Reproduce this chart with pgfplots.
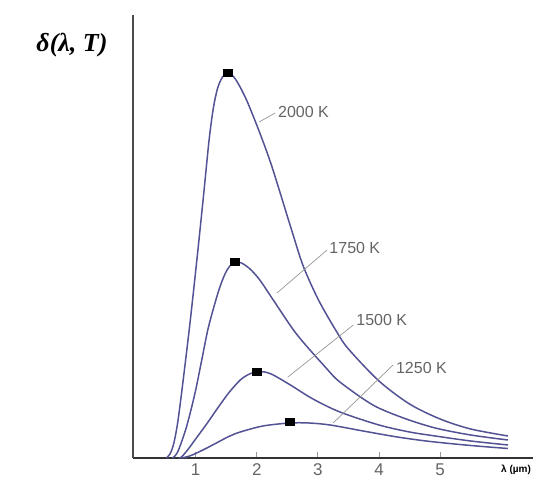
\documentclass[border=0pt]{standalone}
\usepackage{pgfplots}
\pgfplotsset{compat=1.18}
\usepackage{fontspec}
\setmainfont{Liberation Sans}
\newfontfamily\serifbi{Liberation Serif}
\definecolor{curve}{RGB}{82,82,148}
\definecolor{lab}{RGB}{100,100,100}
\definecolor{lead}{RGB}{150,150,150}
\begin{document}
\begin{tikzpicture}
\useasboundingbox (0,0) rectangle (533pt,481pt);
\begin{axis}[
 at={(133pt,23pt)}, anchor=south west,
 scale only axis, width=400pt, height=443pt,
 xmin=-0.025, xmax=6.52, ymin=0, ymax=443,
 axis x line=bottom, axis y line=left,
 x axis line style={-, line width=1.6pt, color=black!80},
 y axis line style={-, line width=1.6pt, color=black!70},
 xtick={1,2,3,4,5}, ytick=\empty,
 tick align=inside, major tick length=6pt,
 xtick style={color=black!40, line width=0.8pt},
 xticklabel style={font=\fontsize{17}{17}\selectfont, text=lab, yshift=-2pt},
 /pgf/number format/assume math mode=true,
 clip=false,
]
% 2000 K
\addplot[curve, line width=1.5pt, smooth, tension=0.5] coordinates {
 (0.52,0) (0.58,4) (0.64,14) (0.70,33) (0.77,65) (0.90,131) (1.02,198) (1.13,263)
 (1.22,318) (1.29,350) (1.36,370) (1.44,381) (1.52,385) (1.61,382) (1.70,374)
 (1.84,357) (2.05,325) (2.25,291) (2.57,228) (2.76,192) (3.01,158) (3.31,126)
 (3.50,109) (4.00,77) (4.50,54) (5.00,39) (5.50,29) (6.11,22)};
% 1750 K
\addplot[curve, line width=1.5pt, smooth, tension=0.5] coordinates {
 (0.62,0) (0.66,2) (0.72,8) (0.85,31) (0.99,65) (1.10,98) (1.21,131) (1.37,166)
 (1.48,184) (1.56,192) (1.64,196) (1.75,195) (1.89,189) (2.05,178) (2.27,158)
 (2.65,124) (3.12,91) (3.36,76) (3.90,53) (4.40,40) (4.92,30) (5.50,23) (6.11,18)};
% 1500 K
\addplot[curve, line width=1.5pt, smooth, tension=0.5] coordinates {
 (0.72,0) (0.77,1) (0.88,9) (1.00,19) (1.18,34) (1.35,49) (1.54,65) (1.73,78)
 (1.88,84) (2.00,86) (2.13,86) (2.27,83) (2.55,73) (2.92,59) (3.36,46) (4.00,33)
 (4.50,26) (4.92,22) (5.50,17) (6.11,13)};
% 1250 K
\addplot[curve, line width=1.5pt, smooth, tension=0.5] coordinates {
 (0.78,0) (0.90,2) (1.00,4.5) (1.20,10.5) (1.40,17) (1.56,22) (1.73,26) (2.10,32)
 (2.54,35) (2.85,35) (3.20,33) (3.74,27) (4.30,21) (4.84,16.5) (5.50,12.5) (6.11,9.5)};
% peak markers
\addplot[only marks, mark=square*, mark size=3.8pt, mark options={fill=black, draw=black, xscale=1.2, yscale=0.95}]
 coordinates {(1.52,385) (1.64,196) (2.00,86) (2.54,36)};
% leader lines and labels
\draw[lead, line width=0.7pt] (axis cs:2.04,336) -- (axis cs:2.30,345);
\draw[lead, line width=0.7pt] (axis cs:2.33,165) -- (axis cs:3.15,208);
\draw[lead, line width=0.7pt] (axis cs:2.51,81) -- (axis cs:3.58,133);
\draw[lead, line width=0.7pt] (axis cs:3.25,35) -- (axis cs:4.23,93);
\node[anchor=west, text=lab, inner sep=1pt, font=\fontsize{16}{16}\selectfont] at (axis cs:2.33,346) {2000 K};
\node[anchor=west, text=lab, inner sep=1pt, font=\fontsize{16}{16}\selectfont] at (axis cs:3.17,210) {1750 K};
\node[anchor=west, text=lab, inner sep=1pt, font=\fontsize{16}{16}\selectfont] at (axis cs:3.61,138) {1500 K};
\node[anchor=west, text=lab, inner sep=1pt, font=\fontsize{16}{16}\selectfont] at (axis cs:4.26,90) {1250 K};
\end{axis}
\node[font=\serifbi\bfseries\itshape\fontsize{26}{26}\selectfont] at (72pt,436pt) {δ(λ, T)};
\node[anchor=west, inner sep=0pt, font=\bfseries\fontsize{10}{10}\selectfont] at (501pt,11pt) {λ (µm)};
\end{tikzpicture}
\end{document}
